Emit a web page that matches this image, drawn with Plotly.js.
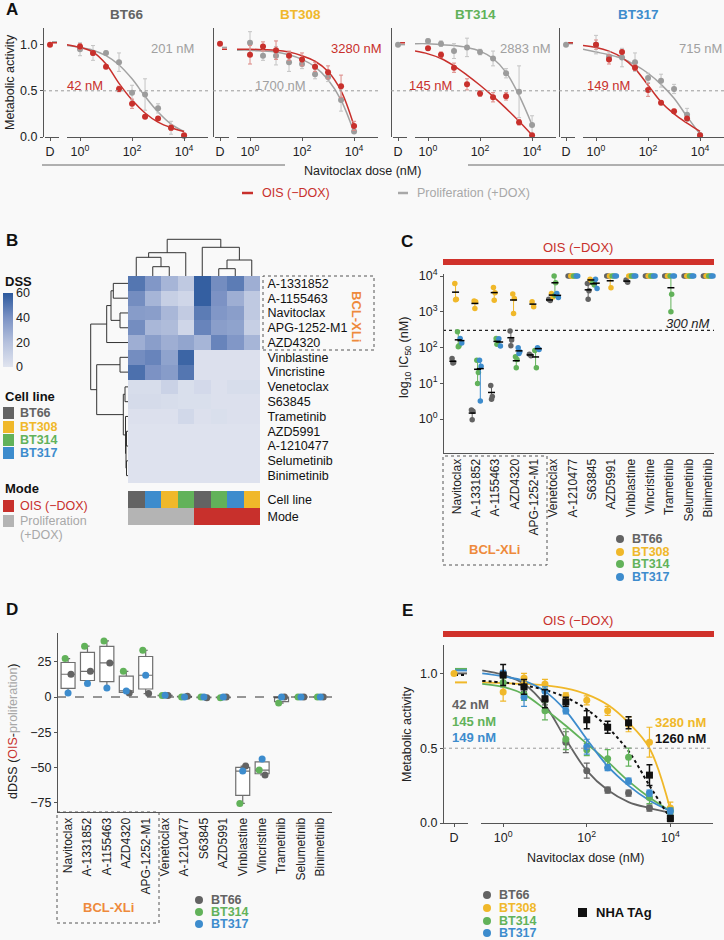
<!DOCTYPE html>
<html>
<head>
<meta charset="utf-8">
<script src="https://cdn.plot.ly/plotly-3.0.1.min.js"></script>
<style>html,body{margin:0;padding:0;background:#f9f9f9;}</style>
</head>
<body>
<div id="chart" style="width:724px;height:940px;"></div>
<script>
// ================= DATA =================
const cellLines = ['BT66', 'BT308', 'BT314', 'BT317'];
const cellColors = ['#636363', '#f0b82a', '#62b25a', '#3d8ccd'];
const oisColor = '#c8302c';
const prolColor = '#a2a2a2';

// ---- Panel A: dose response, OIS vs proliferation ----
const doses = [1, 3.16, 10, 31.6, 100, 316, 1000, 3162, 10000];
const fitDoses = [0.316, 1, 3.16, 10, 31.6, 100, 316, 1000, 3162, 10000];

const aOis_BT66 = [0.98, 0.91, 0.76, 0.52, 0.36, 0.22, 0.20, 0.10, 0.02];
const aOisErr_BT66 = [0.03, 0.02, 0.02, 0.03, 0.05, 0.02, 0.02, 0.03, 0.01];
const aProl_BT66 = [0.95, 0.91, 0.91, 0.81, 0.48, 0.46, 0.31, 0.10, 0.01];
const aProlErr_BT66 = [0.07, 0.08, 0.02, 0.10, 0.08, 0.17, 0.05, 0.07, 0.01];
const aOisFit_BT66 = [1.00, 0.97, 0.92, 0.79, 0.58, 0.40, 0.26, 0.16, 0.10, 0.06];
const aProlFit_BT66 = [0.99, 0.97, 0.94, 0.88, 0.78, 0.63, 0.44, 0.27, 0.14, 0.06];

const aOis_BT308 = [0.89, 0.98, 0.94, 0.88, 0.84, 0.76, 0.70, 0.55, 0.12];
const aOisErr_BT308 = [0.10, 0.05, 0.10, 0.05, 0.07, 0.05, 0.07, 0.12, 0.05];
const aProl_BT308 = [1.02, 0.88, 0.88, 0.81, 0.79, 0.68, 0.65, 0.40, 0.06];
const aProlErr_BT308 = [0.12, 0.05, 0.10, 0.10, 0.05, 0.05, 0.05, 0.12, 0.02];
const aOisFit_BT308 = [0.95, 0.95, 0.945, 0.94, 0.92, 0.88, 0.82, 0.71, 0.50, 0.12];
const aProlFit_BT308 = [0.94, 0.94, 0.93, 0.92, 0.89, 0.84, 0.76, 0.62, 0.40, 0.05];

const aOis_BT314 = [0.96, 0.89, 0.75, 0.57, 0.47, 0.43, 0.44, 0.16, 0.02];
const aOisErr_BT314 = [0.02, 0.03, 0.05, 0.06, 0.03, 0.05, 0.04, 0.03, 0.01];
const aProl_BT314 = [1.04, 1.01, 0.93, 0.97, 0.92, 0.85, 0.69, 0.49, 0.13];
const aProlErr_BT314 = [0.02, 0.03, 0.08, 0.10, 0.03, 0.08, 0.05, 0.28, 0.10];
const aOisFit_BT314 = [0.93, 0.90, 0.85, 0.77, 0.67, 0.56, 0.44, 0.31, 0.17, 0.02];
const aProlFit_BT314 = [1.01, 1.01, 1.00, 0.99, 0.97, 0.93, 0.85, 0.70, 0.45, 0.13];

const aOis_BT317 = [1.00, 0.84, 0.92, 0.75, 0.51, 0.37, 0.28, 0.20, 0.02];
const aOisErr_BT317 = [0.05, 0.05, 0.02, 0.03, 0.07, 0.02, 0.02, 0.02, 0.01];
const aProl_BT317 = [1.00, 0.87, 0.86, 0.81, 0.64, 0.61, 0.52, 0.24, 0.02];
const aProlErr_BT317 = [0.10, 0.05, 0.10, 0.10, 0.05, 0.07, 0.05, 0.07, 0.01];
const aOisFit_BT317 = [0.99, 0.97, 0.93, 0.86, 0.74, 0.56, 0.38, 0.25, 0.15, 0.06];
const aProlFit_BT317 = [0.95, 0.92, 0.89, 0.85, 0.78, 0.69, 0.57, 0.42, 0.22, 0.03];

const aDmsoDot = [1.00, 1.01, 1.00, 1.00];
const aDmsoDotMode = ['OIS', 'OIS', 'Prolif', 'Prolif'];
const aDmsoOisLine = [1.02, 0.95, 1.02, 1.02];
const aDmsoProlLine = [1.03, 0.97, 1.00, 1.01];
const aIcOis = ['42 nM', '3280 nM', '145 nM', '149 nM'];
const aIcProl = ['201 nM', '1700 nM', '2883 nM', '715 nM'];

// ---- Panel B: DSS heatmap ----
const heatDrugs = ['A-1331852', 'A-1155463', 'Navitoclax', 'APG-1252-M1', 'AZD4320', 'Vinblastine', 'Vincristine',
  'Venetoclax', 'S63845', 'Trametinib', 'AZD5991', 'A-1210477', 'Selumetinib', 'Binimetinib'];
const heatColCell = ['BT66', 'BT317', 'BT308', 'BT314', 'BT66', 'BT314', 'BT317', 'BT308'];
const heatColMode = ['Prolif', 'Prolif', 'Prolif', 'Prolif', 'OIS', 'OIS', 'OIS', 'OIS'];
const heatDSS = [
  [50, 38, 25, 15, 58, 42, 48, 28],
  [42, 25, 12, 8, 58, 40, 28, 15],
  [36, 35, 24, 14, 48, 38, 35, 15],
  [42, 24, 22, 8, 45, 35, 33, 12],
  [28, 35, 28, 32, 25, 45, 38, 25],
  [42, 45, 33, 56, 2, 2, 2, 2],
  [52, 40, 36, 50, 2, 2, 2, 2],
  [4, 4, 10, 3, 6, 2, 4, 4],
  [5, 5, 4, 3, 3, 2, 2, 2],
  [2, 2, 2, 7, 2, 3, 2, 2],
  [1, 1, 1, 1, 1, 1, 1, 1],
  [1, 1, 1, 1, 1, 1, 1, 1],
  [1, 1, 1, 1, 1, 1, 1, 1],
  [1, 1, 1, 1, 1, 1, 1, 1]
];
// dendrogram merges: [childA, childB, height]; ids >= nLeaves refer to earlier merges
const colMerges = [[1, 2, 9.3], [0, 8, 18.7], [9, 3, 23.3], [5, 6, 7.3], [11, 7, 16], [4, 12, 28.7], [10, 13, 36.7]];
const rowMerges = [[0, 1, 14.7], [2, 3, 8], [14, 15, 17], [16, 4, 21.3], [5, 6, 8], [7, 8, 3], [12, 13, 1.5],
  [10, 11, 1.5], [21, 20, 2], [9, 22, 2.5], [19, 23, 4.7], [18, 24, 31.3], [17, 25, 37.3]];

// ---- Panel C: IC50 (nM), OIS ----
const drugs = ['Navitoclax', 'A-1331852', 'A-1155463', 'AZD4320', 'APG-1252-M1', 'Venetoclax', 'A-1210477',
  'S63845', 'AZD5991', 'Vinblastine', 'Vincristine', 'Trametinib', 'Selumetinib', 'Binimetinib'];
const ic50_BT66 = [[49, 38, 37], [1.8, 1.65, 0.95], [8.7, 4.3, 3.6], [290, 162, 112], [65, 59], [2240, 2050],
  [10000, 10000], [6200, 3870, 2240], [10000, 10000], [7700, 6700], [10000, 10000], [10000, 10000], [10000, 10000], [10000, 10000]];
const ic50_BT308 = [[6200, 2250, 2150], [2000, 1900, 1230], [4800, 3400, 2100], [3150, 2350, 900], [1900, 1370], [3250, 2600],
  [10000, 10000], [8100, 7400], [10000, 4700], [10000, 10000], [10000, 10000], [10000, 10000], [10000, 10000], [10000, 10000]];
const ic50_BT314 = [[275, 112, 105], [44, 20, 9.8], [178, 145, 123], [55, 46, 27], [82, 27], [10000, 6500, 2900],
  [10000, 10000], [6500, 5600], [10000, 10000], [10000, 10000], [10000, 10000], [10000, 3100, 1000], [10000, 10000], [10000, 10000]];
const ic50_BT317 = [[178, 134], [44, 30, 3.2], [175, 110], [98, 76, 68], [98, 88], [3250, 2500],
  [10000, 10000], [8100, 4500], [10000, 10000], [10000, 10000], [10000, 10000], [10000, 10000], [10000, 10000], [10000, 10000]];

// ---- Panel D: dDSS (OIS - proliferation) ----
const dss_BT66 = [16.1, 18.2, 24.1, 2.8, 2.4, 1.0, 0.5, -0.5, 0, -48.9, -55.2, 0, 0, 0];
const dss_BT314 = [27.2, 36.0, 39.7, 18.2, 33.1, 1.0, 0, 0, -0.5, -75.3, -51.7, -4.3, 0, 0];
const dss_BT317 = [2.8, 9.5, 6.4, 4.3, 15.4, 1.2, 0, 0, 0, -52.4, -43.9, 0, 0, 0];

// ---- Panel E: navitoclax, OIS, vs NHA TAg ----
const e_BT66 = [0.99, 0.91, 0.82, 0.54, 0.35, 0.22, 0.20, 0.10, 0.03];
const eErr_BT66 = [0.02, 0.03, 0.03, 0.07, 0.05, 0.02, 0.02, 0.02, 0.01];
const e_BT308 = [0.875, 0.97, 0.93, 0.85, 0.82, 0.75, 0.66, 0.54, 0.10];
const eErr_BT308 = [0.06, 0.03, 0.03, 0.02, 0.03, 0.03, 0.05, 0.10, 0.04];
const e_BT314 = [0.94, 0.86, 0.75, 0.56, 0.49, 0.43, 0.44, 0.17, 0.08];
const eErr_BT314 = [0.03, 0.04, 0.06, 0.07, 0.04, 0.06, 0.06, 0.04, 0.02];
const e_BT317 = [1.00, 0.84, 0.88, 0.75, 0.51, 0.37, 0.28, 0.20, 0.08];
const eErr_BT317 = [0.02, 0.06, 0.03, 0.02, 0.05, 0.02, 0.02, 0.02, 0.02];
const e_NHA = [0.99, 0.91, 0.83, 0.81, 0.69, 0.64, 0.67, 0.32, 0.03];
const eErr_NHA = [0.07, 0.05, 0.06, 0.03, 0.06, 0.04, 0.04, 0.07, 0.02];
const eFit_BT66 = [1.02, 0.99, 0.93, 0.79, 0.56, 0.35, 0.22, 0.14, 0.10, 0.07];
const eFit_BT308 = [0.94, 0.935, 0.93, 0.92, 0.90, 0.86, 0.79, 0.67, 0.50, 0.09];
const eFit_BT314 = [0.93, 0.91, 0.86, 0.76, 0.65, 0.53, 0.41, 0.28, 0.17, 0.08];
const eFit_BT317 = [1.00, 0.98, 0.95, 0.88, 0.75, 0.56, 0.38, 0.25, 0.15, 0.08];
const eFit_NHA = [0.95, 0.94, 0.92, 0.89, 0.84, 0.76, 0.64, 0.48, 0.25, 0.03];
const eDmsoLine = [1.00, 0.94, 1.03, 1.02, 0.99]; // BT66, BT308, BT314, BT317, NHA
const eDmsoDot = 1.0;
const eIc = ['42 nM', '3280 nM', '145 nM', '149 nM', '1260 nM'];

// ================= LAYOUT HELPERS =================
const FONT = 'Liberation Sans, Arial, Helvetica, sans-serif';
const W = 724, H = 940;
const PX = x => x / W, PY = y => 1 - y / H;
const XD = (a, b) => [a / W, b / W];
const YD = (top, bot) => [1 - bot / H, 1 - top / H];
const sup = n => '10<sup>' + n + '</sup>';

const layout = {
  width: W, height: H, margin: {l: 0, r: 0, t: 0, b: 0},
  paper_bgcolor: '#f9f9f9', plot_bgcolor: 'rgba(0,0,0,0)', showlegend: false,
  font: {family: FONT, size: 12, color: '#222'},
  shapes: [], annotations: []
};
const traces = [];
let nx = 0, ny = 0;
function addX(o) { nx++; const k = nx > 1 ? nx : ''; layout['xaxis' + k] = o; return 'x' + k; }
function addY(o) { ny++; const k = ny > 1 ? ny : ''; layout['yaxis' + k] = o; return 'y' + k; }
function ax(extra) {
  return Object.assign({showgrid: false, zeroline: false, showline: true, linecolor: '#555', linewidth: 1,
    ticks: 'outside', ticklen: 3, tickcolor: '#555', tickfont: {size: 12, color: '#222'}, fixedrange: true}, extra);
}
function ann(text, x, y, o) {
  layout.annotations.push(Object.assign({text: text, x: PX(x), y: PY(y), xref: 'paper', yref: 'paper',
    showarrow: false, xanchor: 'center', yanchor: 'middle', font: {size: 12.5, color: '#222'}}, o || {}));
}
function fontOf(size, color, bold) {
  return {size: size, color: color, family: FONT, weight: bold ? 'bold' : 'normal'};
}
function hline(x0, x1, y, color, width, dash) {
  layout.shapes.push({type: 'line', xref: 'paper', yref: 'paper', x0: PX(x0), x1: PX(x1), y0: PY(y), y1: PY(y),
    line: {color: color, width: width || 1, dash: dash || 'solid'}});
}
function rectPx(x0, y0, x1, y1, fill, lineColor, dash) {
  layout.shapes.push({type: 'rect', xref: 'paper', yref: 'paper', x0: PX(x0), x1: PX(x1), y0: PY(y1), y1: PY(y0),
    fillcolor: fill || 'rgba(0,0,0,0)', line: {color: lineColor || 'rgba(0,0,0,0)', width: lineColor ? 1 : 0, dash: dash || 'solid'}});
}
function dotPx(cx, cy, r, color) {
  layout.shapes.push({type: 'circle', xref: 'paper', yref: 'paper', x0: PX(cx - r), x1: PX(cx + r), y0: PY(cy + r), y1: PY(cy - r),
    fillcolor: color, line: {width: 0}});
}
const axKey = id => id[0] + 'axis' + id.slice(1);

// ================= PANEL A =================
ann('<b>A</b>', 12, 9, {font: fontOf(17, '#111', true)});
const aY0 = [43, 213, 391, 559];
const aSeries = [
  [aOis_BT66, aOisErr_BT66, aProl_BT66, aProlErr_BT66, aOisFit_BT66, aProlFit_BT66],
  [aOis_BT308, aOisErr_BT308, aProl_BT308, aProlErr_BT308, aOisFit_BT308, aProlFit_BT308],
  [aOis_BT314, aOisErr_BT314, aProl_BT314, aProlErr_BT314, aOisFit_BT314, aProlFit_BT314],
  [aOis_BT317, aOisErr_BT317, aProl_BT317, aProlErr_BT317, aOisFit_BT317, aProlFit_BT317]
];
const aTitleX = [127, 300, 475, 638];
const aTopLabel = [[172, 'prol'], [356, 'ois'], [525, 'prol'], [700, 'prol']];
const aBotLabel = [[85, 'ois'], [280, 'prol'], [430, 'ois'], [608, 'ois']];
cellLines.forEach((cl, i) => {
  const Y0 = aY0[i];
  const y = addY(ax({domain: YD(28, 137), range: [0, 1.18], anchor: 'free', position: Y0 / W,
    tickvals: [0, 0.5, 1], ticktext: ['0.0', '0.5', '1.0'], showticklabels: i === 0, ticks: i === 0 ? 'outside' : '',
    tickfont: {size: 12.5, color: '#222'}}));
  const xd = addX(ax({domain: XD(Y0 + 2, Y0 + 16), range: [0, 14], anchor: y, tickvals: [5], ticktext: ['D'], tickfont: {size: 12.5, color: '#222'}}));
  const xl = addX(ax({type: 'log', domain: XD(Y0 + 24, Y0 + 165), range: [-0.5, 4.92], anchor: y,
    tickvals: [1, 100, 10000], ticktext: [sup(0), sup(2), sup(4)], tickfont: {size: 12.5, color: '#222'}}));
  layout.shapes.push({type: 'line', xref: 'paper', yref: y, x0: PX(Y0), x1: PX(Y0 + 165), y0: 0.5, y1: 0.5,
    line: {color: '#9a9a9a', width: 1, dash: 'dot'}});
  const s = aSeries[i];
  traces.push({type: 'scatter', mode: 'lines', x: fitDoses, y: s[5], xaxis: xl, yaxis: y,
    line: {color: prolColor, width: 1.5, shape: 'spline', smoothing: 1}, hoverinfo: 'skip'});
  traces.push({type: 'scatter', mode: 'lines', x: fitDoses, y: s[4], xaxis: xl, yaxis: y,
    line: {color: oisColor, width: 1.5, shape: 'spline', smoothing: 1}, hoverinfo: 'skip'});
  traces.push({type: 'scatter', mode: 'markers', x: doses, y: s[2], xaxis: xl, yaxis: y, cliponaxis: false,
    marker: {color: '#9c9c9c', size: 6}, error_y: {type: 'data', array: s[3], color: '#c4c4c4', thickness: 1, width: 2}});
  traces.push({type: 'scatter', mode: 'markers', x: doses, y: s[0], xaxis: xl, yaxis: y, cliponaxis: false,
    marker: {color: oisColor, size: 6}, error_y: {type: 'data', array: s[1], color: '#dc8a86', thickness: 1, width: 2}});
  traces.push({type: 'scatter', mode: 'lines', x: [7, 12], y: [aDmsoProlLine[i], aDmsoProlLine[i]], xaxis: xd, yaxis: y,
    line: {color: prolColor, width: 1.5}, cliponaxis: false});
  traces.push({type: 'scatter', mode: 'lines', x: [7, 12], y: [aDmsoOisLine[i], aDmsoOisLine[i]], xaxis: xd, yaxis: y,
    line: {color: oisColor, width: 1.5}, cliponaxis: false});
  traces.push({type: 'scatter', mode: 'markers', x: [5], y: [aDmsoDot[i]], xaxis: xd, yaxis: y, cliponaxis: false,
    marker: {color: aDmsoDotMode[i] === 'OIS' ? oisColor : '#9c9c9c', size: 6}});
  ann('<b>' + cl + '</b>', aTitleX[i], 15, {font: fontOf(13.5, cellColors[i], true)});
  const lbl = (w) => w === 'ois' ? [aIcOis[i], oisColor] : [aIcProl[i], '#a0a0a0'];
  const t = lbl(aTopLabel[i][1]), b = lbl(aBotLabel[i][1]);
  ann(t[0], aTopLabel[i][0], 49, {font: {size: 13, color: t[1]}});
  ann(b[0], aBotLabel[i][0], 85, {font: {size: 13, color: b[1]}});
});
ann('Metabolic activity', 10, 82, {textangle: -90, font: {size: 12.5, color: '#222'}});
ann('Navitoclax dose (nM)', 362, 171, {font: {size: 12.5, color: '#222'}});
hline(42, 285, 165, '#666', 1);
hline(468, 724, 165, '#666', 1);
hline(242, 253, 193, oisColor, 2.5);
ann('OIS (−DOX)', 260, 193, {xanchor: 'left', font: {size: 12.5, color: oisColor}});
hline(398, 408, 193, '#a8a8a8', 2.5);
ann('Proliferation (+DOX)', 415, 193, {xanchor: 'left', font: {size: 12.5, color: '#a8a8a8'}});

// ================= PANEL B =================
ann('<b>B</b>', 12, 241, {font: fontOf(17, '#111', true)});
const yHeat = addY(ax({domain: YD(276, 483), range: [13.5, -0.5], side: 'right', showline: false,
  tickvals: heatDrugs.map((d, i) => i), ticktext: heatDrugs, ticks: 'outside', ticklen: 4, tickcolor: 'rgba(0,0,0,0)',
  tickfont: {size: 12.5, color: '#111'}}));
const xHeat = addX(ax({domain: XD(128, 260), range: [-0.5, 7.5], anchor: yHeat, visible: false}));
layout[axKey(yHeat)].anchor = xHeat;
traces.push({type: 'heatmap', z: heatDSS, x: [0, 1, 2, 3, 4, 5, 6, 7], y: heatDrugs.map((d, i) => i), xaxis: xHeat, yaxis: yHeat,
  zmin: 0, zmax: 60, hoverinfo: 'skip',
  colorscale: [[0, '#e0e4ef'], [0.33, '#b5c1dd'], [0.67, '#7b92c4'], [1, '#2c599d']],
  colorbar: {thickness: 10, thicknessmode: 'pixels', len: 74, lenmode: 'pixels', x: PX(3), xanchor: 'left',
    y: PY(330), yanchor: 'middle', xpad: 0, ypad: 0, outlinewidth: 0, tickvals: [0, 20, 40, 60], ticks: '',
    tickfont: {size: 12.5, color: '#222'}}});
// annotation rows
const yAnn = addY(ax({domain: YD(491, 525), range: [1.5, -0.5], side: 'right', showline: false, anchor: xHeat,
  tickvals: [0, 1], ticktext: ['Cell line', 'Mode'], ticks: 'outside', ticklen: 4, tickcolor: 'rgba(0,0,0,0)',
  tickfont: {size: 12.5, color: '#111'}}));
const annZ = [heatColCell.map(c => cellLines.indexOf(c)), heatColMode.map(m => m === 'OIS' ? 4 : 5)];
const annColors = cellColors.concat([oisColor, '#b4b4b4']);
const stepScale = [];
annColors.forEach((c, k) => { const a = k === 0 ? 0 : (2 * k - 1) / 10, b = k === 5 ? 1 : (2 * k + 1) / 10; stepScale.push([a, c], [b, c]); });
traces.push({type: 'heatmap', z: annZ, x: [0, 1, 2, 3, 4, 5, 6, 7], y: [0, 1], xaxis: xHeat, yaxis: yAnn, zmin: 0, zmax: 5,
  colorscale: stepScale, showscale: false, hoverinfo: 'skip'});
// dendrograms
function dendroXY(merges, n) {
  const pos = [], h = [], xs = [], ys = [];
  for (let i = 0; i < n; i++) { pos[i] = i; h[i] = 0; }
  merges.forEach((m, k) => {
    const a = m[0], b = m[1], ht = m[2];
    xs.push(pos[a], pos[a], pos[b], pos[b], null);
    ys.push(h[a], ht, ht, h[b], null);
    pos[n + k] = (pos[a] + pos[b]) / 2; h[n + k] = ht;
  });
  return [xs, ys];
}
const yColD = addY(ax({domain: YD(236, 276), range: [0, 40], anchor: xHeat, visible: false}));
const cd = dendroXY(colMerges, 8);
traces.push({type: 'scatter', mode: 'lines', x: cd[0], y: cd[1], xaxis: xHeat, yaxis: yColD, line: {color: '#333', width: 1}, hoverinfo: 'skip'});
const xRowD = addX(ax({domain: XD(88, 128), range: [40, 0], anchor: yHeat, visible: false}));
const rd = dendroXY(rowMerges, 14);
traces.push({type: 'scatter', mode: 'lines', x: rd[1], y: rd[0], xaxis: xRowD, yaxis: yHeat, line: {color: '#333', width: 1}, hoverinfo: 'skip'});
rectPx(263, 276, 374, 350, null, '#555', 'dot');
ann('<b>BCL-XLi</b>', 356, 316, {textangle: 90, font: fontOf(13, '#ee8a3c', true)});
ann('<b>DSS</b>', 3, 281, {xanchor: 'left', font: fontOf(13, '#111', true)});
ann('<b>Cell line</b>', 3, 396, {xanchor: 'left', font: fontOf(13, '#111', true)});
const legY = [413, 427, 440, 453];
cellLines.forEach((cl, i) => {
  rectPx(3, legY[i] - 6, 14, legY[i] + 6, cellColors[i]);
  ann('<b>' + cl + '</b>', 18, legY[i], {xanchor: 'left', font: fontOf(12.5, cellColors[i], true)});
});
ann('<b>Mode</b>', 3, 488, {xanchor: 'left', font: fontOf(13, '#111', true)});
rectPx(3, 500, 14, 512, oisColor);
ann('OIS (−DOX)', 18, 506, {xanchor: 'left', font: {size: 12.5, color: oisColor}});
rectPx(3, 515, 14, 527, '#b4b4b4');
ann('Proliferation', 18, 521, {xanchor: 'left', font: {size: 12.5, color: '#a8a8a8'}});
ann('(+DOX)', 18, 535, {xanchor: 'left', font: {size: 12.5, color: '#a8a8a8'}});

// ================= PANEL C =================
ann('<b>C</b>', 407, 242, {font: fontOf(17, '#111', true)});
rectPx(443, 259, 714, 265, '#d0322b');
ann('OIS (−DOX)', 578, 248, {font: {size: 13, color: oisColor}});
const yC = addY(ax({type: 'log', domain: YD(274, 453), range: [-0.95, 4.056], anchor: 'free', position: PX(443),
  tickvals: [1, 10, 100, 1000, 10000], ticktext: [sup(0), sup(1), sup(2), sup(3), sup(4)], tickfont: {size: 12.5, color: '#222'}}));
const xC = addX(ax({domain: XD(443, 714), range: [-0.72, 13.3], anchor: yC, tickvals: drugs.map((d, i) => i), ticktext: drugs,
  tickangle: -90, ticks: '', tickfont: {size: 12, color: '#222'}}));
traces.push({type: 'scatter', mode: 'lines', x: [-0.72, 13.3], y: [300, 300], xaxis: xC, yaxis: yC,
  line: {color: '#222', width: 1.2, dash: 'dot'}, hoverinfo: 'skip'});
const cOff = [-0.21, -0.07, 0.07, 0.21];
const cJit = [-0.04, 0.04, 0];
const cSets = [ic50_BT66, ic50_BT308, ic50_BT314, ic50_BT317];
const meanX = [], meanY = [];
cSets.forEach((set, ci) => {
  const px = [], py = [], lx = [], ly = [];
  set.forEach((vals, d) => {
    vals.forEach((v, r) => { px.push(d + cOff[ci] + cJit[r % 3]); py.push(v); });
    const mn = Math.min(...vals), mx = Math.max(...vals);
    if (mx / mn > 1.05) {
      lx.push(d + cOff[ci], d + cOff[ci], null); ly.push(mn, mx, null);
      meanX.push(d + cOff[ci]); meanY.push(vals.reduce((a, b) => a + b, 0) / vals.length);
    }
  });
  traces.push({type: 'scatter', mode: 'lines', x: lx, y: ly, xaxis: xC, yaxis: yC, line: {color: cellColors[ci], width: 1}, hoverinfo: 'skip'});
  traces.push({type: 'scatter', mode: 'markers', x: px, y: py, xaxis: xC, yaxis: yC, cliponaxis: false,
    marker: {color: cellColors[ci], size: 5.5}});
});
traces.push({type: 'scatter', mode: 'markers', x: meanX, y: meanY, xaxis: xC, yaxis: yC,
  marker: {symbol: 'line-ew', size: 5, line: {color: '#000', width: 1.5}}});
ann('<i>300 nM</i>', 712, 324, {xanchor: 'right', font: {size: 13, color: '#222'}});
ann('log<sub>10</sub> IC<sub>50</sub> (nM)', 405, 358, {textangle: -90, font: {size: 12.5, color: '#222'}});
rectPx(443, 456, 547, 565, null, '#555', 'dot');
ann('<b>BCL-XLi</b>', 495, 549, {font: fontOf(13, '#ee8a3c', true)});
const cLegY = [539, 552, 564, 577];
cellLines.forEach((cl, i) => {
  dotPx(620, cLegY[i], 4, cellColors[i]);
  ann('<b>' + cl + '</b>', 630, cLegY[i], {xanchor: 'left', font: fontOf(12.5, cellColors[i], true)});
});

// ================= PANEL D =================
ann('<b>D</b>', 12, 609, {font: fontOf(17, '#111', true)});
const yDd = addY(ax({domain: YD(633, 812), range: [-81.4, 45.3], anchor: 'free', position: PX(57),
  tickvals: [-75, -50, -25, 0, 25], tickfont: {size: 12.5, color: '#222'}}));
const xDd = addX(ax({domain: XD(57, 332), range: [-0.57, 13.6], anchor: yDd, tickvals: drugs.map((d, i) => i), ticktext: drugs,
  tickangle: -90, ticks: '', tickfont: {size: 12, color: '#222'}}));
const dSets = [dss_BT66, dss_BT314, dss_BT317];
const dColors = [cellColors[0], cellColors[2], cellColors[3]];
const dNames = ['BT66', 'BT314', 'BT317'];
const dOff = [0.15, -0.15, 0.0];
const bx = [], by = [];
drugs.forEach((d, i) => dSets.forEach(s => { bx.push(i); by.push(s[i]); }));
traces.push({type: 'box', x: bx, y: by, xaxis: xDd, yaxis: yDd, boxpoints: false, width: 0.72, whiskerwidth: 0.3,
  quartilemethod: 'linear', fillcolor: '#ffffff', line: {color: '#6f6f6f', width: 1.2}, hoverinfo: 'skip'});
traces.push({type: 'scatter', mode: 'lines', x: [-0.57, 13.6], y: [0, 0], xaxis: xDd, yaxis: yDd,
  line: {color: '#333', width: 1, dash: 'dash'}, hoverinfo: 'skip'});
dSets.forEach((s, k) => {
  traces.push({type: 'scatter', mode: 'markers', x: s.map((v, i) => i + dOff[k]), y: s, xaxis: xDd, yaxis: yDd, cliponaxis: false,
    marker: {color: dColors[k], size: 7}});
});
ann('dDSS (<span style="color:#c8302c">OIS</span>-<span style="color:#a8a8a8">proliferation</span>)', 13, 731,
  {textangle: -90, font: {size: 12.5, color: '#222'}});
rectPx(57, 812, 159, 923, null, '#555', 'dot');
ann('<b>BCL-XLi</b>', 108, 907, {font: fontOf(13, '#ee8a3c', true)});
const dLegY = [900, 912, 924];
dNames.forEach((n, k) => {
  dotPx(199, dLegY[k], 4, dColors[k]);
  ann('<b>' + n + '</b>', 209, dLegY[k], {xanchor: 'left', font: fontOf(12.5, dColors[k], true)});
});

// ================= PANEL E =================
ann('<b>E</b>', 407, 610, {font: fontOf(17, '#111', true)});
rectPx(443, 631, 714, 637, '#d0322b');
ann('OIS (−DOX)', 578, 620, {font: {size: 13, color: oisColor}});
const yE = addY(ax({domain: YD(645, 823), range: [0, 1.19], anchor: 'free', position: PX(443),
  tickvals: [0, 0.5, 1], ticktext: ['0.0', '0.5', '1.0'], tickfont: {size: 12.5, color: '#222'}}));
const xED = addX(ax({domain: XD(443, 468), range: [0, 25], anchor: yE, tickvals: [11], ticktext: ['D'], tickfont: {size: 12.5, color: '#222'}}));
const xEL = addX(ax({type: 'log', domain: XD(481, 713), range: [-0.53, 5.02], anchor: yE,
  tickvals: [1, 100, 10000], ticktext: [sup(0), sup(2), sup(4)], tickfont: {size: 12.5, color: '#222'}}));
layout.shapes.push({type: 'line', xref: 'paper', yref: yE, x0: PX(443), x1: PX(713), y0: 0.5, y1: 0.5,
  line: {color: '#9a9a9a', width: 1, dash: 'dot'}});
const eSets = [[e_BT66, eErr_BT66, eFit_BT66], [e_BT308, eErr_BT308, eFit_BT308], [e_BT314, eErr_BT314, eFit_BT314], [e_BT317, eErr_BT317, eFit_BT317]];
eSets.forEach((s, i) => {
  traces.push({type: 'scatter', mode: 'lines', x: fitDoses, y: s[2], xaxis: xEL, yaxis: yE,
    line: {color: cellColors[i], width: 1.8, shape: 'spline', smoothing: 1}, hoverinfo: 'skip'});
});
traces.push({type: 'scatter', mode: 'lines', x: fitDoses, y: eFit_NHA, xaxis: xEL, yaxis: yE,
  line: {color: '#111', width: 2, dash: 'dot', shape: 'spline', smoothing: 1}, hoverinfo: 'skip'});
eSets.forEach((s, i) => {
  traces.push({type: 'scatter', mode: 'markers', x: doses, y: s[0], xaxis: xEL, yaxis: yE, cliponaxis: false,
    marker: {color: cellColors[i], size: 7}, error_y: {type: 'data', array: s[1], color: cellColors[i], thickness: 1.2, width: 3}});
});
traces.push({type: 'scatter', mode: 'markers', x: doses, y: e_NHA, xaxis: xEL, yaxis: yE, cliponaxis: false,
  marker: {color: '#111', size: 7, symbol: 'square'}, error_y: {type: 'data', array: eErr_NHA, color: '#111', thickness: 1.5, width: 3}});
const eLineColors = cellColors.concat(['#111']);
eDmsoLine.forEach((v, k) => {
  traces.push({type: 'scatter', mode: 'lines', x: [12, 24], y: [v, v], xaxis: xED, yaxis: yE, cliponaxis: false,
    line: {color: eLineColors[k], width: 2, dash: k === 4 ? 'dot' : 'solid'}});
});
traces.push({type: 'scatter', mode: 'markers', x: [11], y: [eDmsoDot], xaxis: xED, yaxis: yE, cliponaxis: false,
  marker: {color: cellColors[1], size: 7}});
ann('Metabolic activity', 407, 734, {textangle: -90, font: {size: 12.5, color: '#222'}});
ann('Navitoclax dose (nM)', 585, 858, {font: {size: 12.5, color: '#222'}});
ann('<b>' + eIc[0] + '</b>', 450, 704, {xanchor: 'left', font: fontOf(13, cellColors[0], true)});
ann('<b>' + eIc[2] + '</b>', 450, 721, {xanchor: 'left', font: fontOf(13, cellColors[2], true)});
ann('<b>' + eIc[3] + '</b>', 450, 737, {xanchor: 'left', font: fontOf(13, cellColors[3], true)});
ann('<b>' + eIc[1] + '</b>', 653, 722, {xanchor: 'left', font: fontOf(13, cellColors[1], true)});
ann('<b>' + eIc[4] + '</b>', 653, 738, {xanchor: 'left', font: fontOf(13, '#111', true)});
const eLegY = [895, 908, 921, 933];
cellLines.forEach((cl, i) => {
  dotPx(487, eLegY[i], 4, cellColors[i]);
  ann('<b>' + cl + '</b>', 497, eLegY[i], {xanchor: 'left', font: fontOf(12.5, cellColors[i], true)});
});
rectPx(578, 908, 587, 917, '#111');
ann('<b>NHA TAg</b>', 594, 912, {xanchor: 'left', font: fontOf(13, '#111', true)});

Plotly.newPlot('chart', traces, layout, {staticPlot: true, displayModeBar: false});
</script>
</body>
</html>
